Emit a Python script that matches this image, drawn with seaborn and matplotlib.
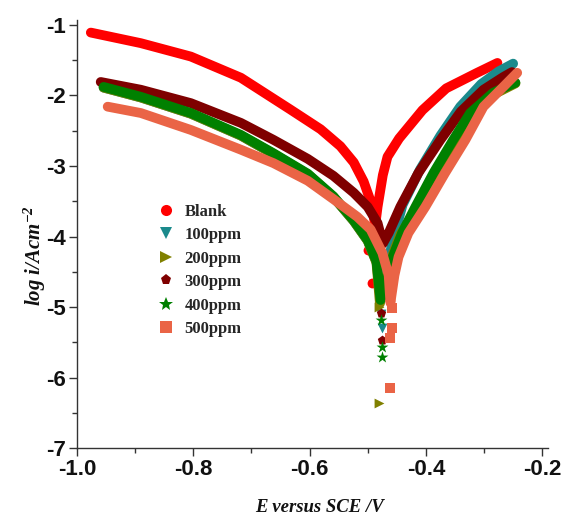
import matplotlib
matplotlib.use("Agg")
import matplotlib.pyplot as plt
from matplotlib.lines import Line2D
import seaborn as sns
import pandas as pd

# Potentiodynamic polarization (Tafel) curves, E in V vs SCE, log current density
series = ["Blank", "100ppm", "200ppm", "300ppm", "400ppm", "500ppm"]
colors = ["#ff0000", "#1b8a8c", "#808000", "#7f0000", "#008000", "#ea6446"]
markers = ["o", "v", ">", "p", "*", "s"]

blank_E = [-0.976, -0.890, -0.804, -0.718, -0.684, -0.633, -0.581, -0.547, -0.524,
           -0.507, -0.495, -0.487, -0.483, -0.474, -0.466, -0.446, -0.406, -0.365,
           -0.312, -0.277]
blank_logi = [-1.11, -1.26, -1.45, -1.75, -1.93, -2.20, -2.48, -2.72, -2.95,
              -3.22, -3.50, -3.84, -3.58, -3.13, -2.87, -2.61, -2.21, -1.90,
              -1.68, -1.54]

ppm100_E = [-0.954, -0.890, -0.804, -0.718, -0.662, -0.603, -0.559, -0.524, -0.500,
            -0.485, -0.475, -0.455, -0.440, -0.410, -0.375, -0.341, -0.305, -0.275, -0.250]
ppm100_logi = [-1.89, -2.03, -2.26, -2.57, -2.83, -3.12, -3.44, -3.78, -4.06,
               -4.36, -4.70, -4.00, -3.55, -3.05, -2.57, -2.16, -1.84, -1.66, -1.55]

ppm200_E = [-0.954, -0.890, -0.804, -0.718, -0.662, -0.603, -0.559, -0.524, -0.500,
            -0.485, -0.479, -0.460, -0.444, -0.415, -0.384, -0.350, -0.321, -0.282, -0.246]
ppm200_logi = [-1.89, -2.03, -2.26, -2.57, -2.83, -3.12, -3.44, -3.78, -4.06,
               -4.37, -4.95, -4.32, -3.97, -3.60, -3.12, -2.65, -2.25, -1.98, -1.83]

ppm300_E = [-0.959, -0.890, -0.804, -0.718, -0.662, -0.603, -0.559, -0.524, -0.500,
            -0.483, -0.474, -0.464, -0.444, -0.413, -0.375, -0.340, -0.301, -0.267, -0.252]
ppm300_logi = [-1.81, -1.92, -2.11, -2.39, -2.63, -2.90, -3.14, -3.38, -3.58,
               -3.81, -4.10, -3.95, -3.58, -3.10, -2.63, -2.23, -1.92, -1.74, -1.67]

ppm400_E = [-0.954, -0.890, -0.804, -0.718, -0.662, -0.603, -0.559, -0.524, -0.500,
            -0.485, -0.478, -0.457, -0.441, -0.418, -0.387, -0.353, -0.324, -0.284, -0.246]
ppm400_logi = [-1.88, -2.02, -2.25, -2.56, -2.82, -3.11, -3.43, -3.77, -4.05,
               -4.35, -4.90, -4.29, -3.95, -3.58, -3.10, -2.63, -2.25, -1.96, -1.82]

ppm500_E = [-0.947, -0.890, -0.804, -0.718, -0.662, -0.603, -0.559, -0.518, -0.495,
            -0.475, -0.464, -0.461, -0.454, -0.447, -0.430, -0.401, -0.367, -0.332,
            -0.301, -0.267, -0.243]
ppm500_logi = [-2.16, -2.25, -2.49, -2.77, -2.96, -3.21, -3.47, -3.72, -3.90,
               -4.23, -4.55, -4.94, -4.55, -4.29, -3.95, -3.58, -3.10, -2.63,
               -2.16, -1.88, -1.68]

# scattered points recorded near the corrosion potential
blank_tail_E = [-0.499, -0.492]
blank_tail_logi = [-4.19, -4.66]
ppm100_tail_E = [-0.477, -0.475]
ppm100_tail_logi = [-5.10, -5.30]
ppm200_tail_E = [-0.481, -0.481]
ppm200_tail_logi = [-5.00, -6.36]
ppm300_tail_E = [-0.479, -0.478, -0.476]
ppm300_tail_logi = [-4.80, -5.09, -5.47]
ppm400_tail_E = [-0.477, -0.475, -0.475]
ppm400_tail_logi = [-5.18, -5.57, -5.71]
ppm500_tail_E = [-0.458, -0.458, -0.461, -0.461]
ppm500_tail_logi = [-5.01, -5.30, -5.44, -6.15]

x_ticks = [-1.0, -0.8, -0.6, -0.4, -0.2]
y_ticks = [-7, -6, -5, -4, -3, -2, -1]

curves = [(blank_E, blank_logi), (ppm100_E, ppm100_logi), (ppm200_E, ppm200_logi),
          (ppm300_E, ppm300_logi), (ppm400_E, ppm400_logi), (ppm500_E, ppm500_logi)]
tails = [(blank_tail_E, blank_tail_logi), (ppm100_tail_E, ppm100_tail_logi),
         (ppm200_tail_E, ppm200_tail_logi), (ppm300_tail_E, ppm300_tail_logi),
         (ppm400_tail_E, ppm400_tail_logi), (ppm500_tail_E, ppm500_tail_logi)]

sns.set_theme(style="ticks")
plt.rcParams["axes.unicode_minus"] = False
plt.rcParams["mathtext.default"] = "regular"

fig = plt.figure(figsize=(5.65, 5.23), dpi=100)
ax = fig.add_axes([0.136, 0.143, 0.834, 0.819])

for name, col, mk, (E, L), (tE, tL) in zip(series, colors, markers, curves, tails):
    df = pd.DataFrame({"E": E, "logi": L})
    sns.lineplot(data=df, x="E", y="logi", sort=False, estimator=None, color=col,
                 lw=7, ax=ax, solid_capstyle="round", solid_joinstyle="round")
    tdf = pd.DataFrame({"E": tE, "logi": tL})
    sns.scatterplot(data=tdf, x="E", y="logi", color=col, marker=mk,
                    s=80 if mk == "*" else 50, linewidth=0, ax=ax)

ax.set_xlim(-1.0, -0.19)
ax.set_ylim(-7, -0.93)
ax.set_xticks(x_ticks)
ax.set_xticklabels([f"{v:.1f}" for v in x_ticks])
ax.set_yticks(y_ticks)
ax.set_yticklabels([str(v) for v in y_ticks])
ax.set_xticks([-0.9, -0.7, -0.5, -0.3], minor=True)
ax.set_yticks([-6.5, -5.5, -4.5, -3.5, -2.5, -1.5], minor=True)

sns.despine(ax=ax)
for sp in ("left", "bottom"):
    ax.spines[sp].set_color("#333333")
    ax.spines[sp].set_linewidth(1.0)
ax.tick_params(which="major", direction="out", length=6, width=1.0, color="#333333", pad=2)
ax.tick_params(which="minor", direction="out", length=3.5, width=1.0, color="#333333")
for lab in ax.get_xticklabels() + ax.get_yticklabels():
    lab.set_fontfamily("Liberation Sans")
    lab.set_fontweight("bold")
    lab.set_fontsize(16)
    lab.set_color("#111111")

ax.set_xlabel("E versus SCE /V", fontfamily="Liberation Serif", fontstyle="italic",
              fontweight="bold", fontsize=13.5, color="#111111")
ax.xaxis.set_label_coords(0.514, -0.118)
ax.set_ylabel("log i/Acm$^{-2}$", fontfamily="Liberation Serif", fontstyle="italic",
              fontweight="bold", fontsize=15, color="#111111")
ax.yaxis.set_label_coords(-0.062, 0.45)

handles = [Line2D([], [], linestyle="none", marker=mk, color=col,
                  markersize=8 if mk != "*" else 10, markeredgewidth=0)
           for mk, col in zip(markers, colors)]
ax.legend(handles, series, loc="upper left", bbox_to_anchor=(0.172, 0.571),
          frameon=False, borderpad=0, borderaxespad=0, handlelength=1.0,
          handletextpad=0.6, labelspacing=0.45,
          prop={"family": "Liberation Serif", "weight": "bold", "size": 12})

fig.savefig("out.png", dpi=100)
